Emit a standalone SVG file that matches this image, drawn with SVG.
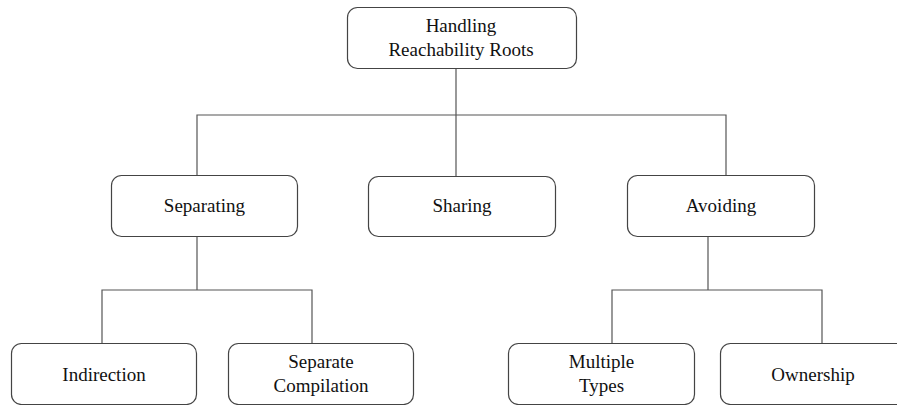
<svg xmlns="http://www.w3.org/2000/svg" width="897" height="405" viewBox="0 0 897 405">
  <style>
    .box { fill: #ffffff; stroke: #444444; stroke-width: 1.2; }
    .edge { fill: none; stroke: #555555; stroke-width: 1.2; }
    .label { font-size: 19px; fill: #111111; text-anchor: middle; }
  </style>
  <rect width="897" height="405" fill="#ffffff"/>

  <!-- tree connectors -->
  <g id="connectors">
    <path class="edge" d="M456 68 V115 M197 175 V115 H726 V175 M456 115 V176"/>
    <path class="edge" d="M197 236 V290 M102 343 V290 H312 V343"/>
    <path class="edge" d="M708 236 V290 M612 343 V290 H822 V343"/>
  </g>

  <g id="nodes" font-family="Liberation Serif, Times New Roman, DejaVu Serif, serif">
    <g id="root">
      <rect class="box" x="347.5" y="7.5" width="229" height="61" rx="10"/>
      <text class="label" x="461" y="32">Handling</text>
      <text class="label" x="461" y="56">Reachability Roots</text>
    </g>

    <g id="separating">
      <rect class="box" x="111.5" y="175.5" width="186" height="61" rx="10"/>
      <text class="label" x="204.5" y="212">Separating</text>
    </g>

    <g id="sharing">
      <rect class="box" x="368.5" y="176.5" width="187" height="60" rx="10"/>
      <text class="label" x="462" y="212">Sharing</text>
    </g>

    <g id="avoiding">
      <rect class="box" x="627.5" y="175.5" width="187" height="61" rx="10"/>
      <text class="label" x="721" y="212">Avoiding</text>
    </g>

    <g id="indirection">
      <rect class="box" x="11.5" y="343.5" width="185" height="61" rx="10"/>
      <text class="label" x="104" y="381">Indirection</text>
    </g>

    <g id="separate-compilation">
      <rect class="box" x="228.5" y="343.5" width="185" height="61" rx="10"/>
      <text class="label" x="321" y="368">Separate</text>
      <text class="label" x="321" y="392">Compilation</text>
    </g>

    <g id="multiple-types">
      <rect class="box" x="508.5" y="343.5" width="186" height="61" rx="10"/>
      <text class="label" x="601.5" y="368">Multiple</text>
      <text class="label" x="601.5" y="392">Types</text>
    </g>

    <g id="ownership">
      <rect class="box" x="720.5" y="343.5" width="187" height="61" rx="10"/>
      <text class="label" x="813" y="381">Ownership</text>
    </g>
  </g>
</svg>
